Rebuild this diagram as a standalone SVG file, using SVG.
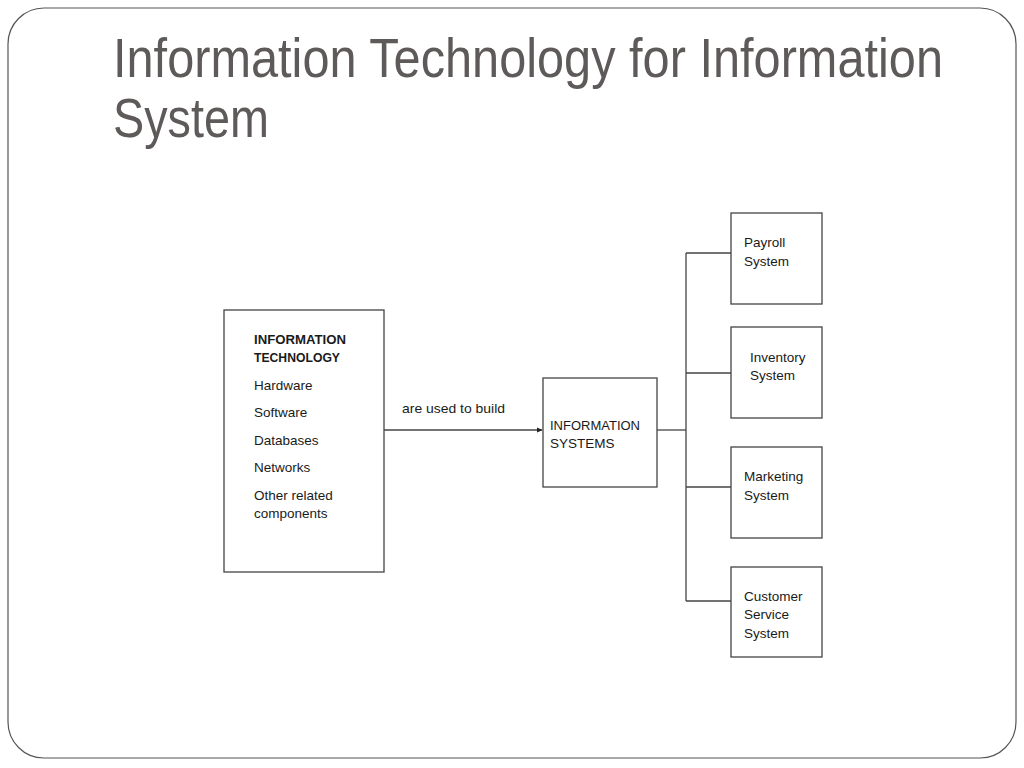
<svg xmlns="http://www.w3.org/2000/svg" width="1024" height="768" viewBox="0 0 1024 768">
<style>
.box{fill:#fff;stroke:#444;stroke-width:1.3}
.t{font-family:"Liberation Sans",Arial,sans-serif;font-size:13.5px;fill:#1a1a1a}
.b{font-weight:bold}
.c{stroke:#444;stroke-width:1.3;fill:none}
.title{font-family:"Liberation Sans",Arial,sans-serif;font-size:55px;fill:#5f5a5a}
</style>
<defs>
<marker id="arr" markerWidth="6" markerHeight="6" refX="5" refY="3" orient="auto" markerUnits="userSpaceOnUse">
<path d="M0,0.5 L5.5,3 L0,5.5 Z" fill="#222"/>
</marker>
</defs>
<rect x="0" y="0" width="1024" height="768" fill="#fff"/>
<rect x="8" y="8" width="1008" height="750" rx="36" ry="36" fill="#fff" stroke="#555" stroke-width="1.2"/>
<g id="title">
<g transform="translate(113,77) scale(0.8,1)">
<text class="title" x="0" y="0" textLength="1037.5" lengthAdjust="spacingAndGlyphs">Information Technology for Information</text>
</g>
<g transform="translate(113,137) scale(0.8,1)">
<text class="title" x="0" y="0" textLength="195" lengthAdjust="spacingAndGlyphs">System</text>
</g>
</g>
<g id="connectors">
<line class="c" x1="384" y1="430" x2="542" y2="430" marker-end="url(#arr)"/>
<polyline class="c" points="657,430 686,430"/>
<line class="c" x1="686" y1="253" x2="686" y2="601"/>
<line class="c" x1="686" y1="253" x2="731" y2="253"/>
<line class="c" x1="686" y1="373" x2="731" y2="373"/>
<line class="c" x1="686" y1="487" x2="731" y2="487"/>
<line class="c" x1="686" y1="601" x2="731" y2="601"/>
<text class="t" x="402" y="413" textLength="103" lengthAdjust="spacingAndGlyphs">are used to build</text>
</g>
<g id="it">
<rect class="box" x="224" y="310" width="160" height="262"/>
<text class="t b" x="254" y="344" textLength="92" lengthAdjust="spacingAndGlyphs">INFORMATION</text>
<text class="t b" x="254" y="362" textLength="86" lengthAdjust="spacingAndGlyphs">TECHNOLOGY</text>
<text class="t" x="254" y="390">Hardware</text>
<text class="t" x="254" y="417">Software</text>
<text class="t" x="254" y="445">Databases</text>
<text class="t" x="254" y="472">Networks</text>
<text class="t" x="254" y="500">Other related</text>
<text class="t" x="254" y="518">components</text>
</g>
<g id="is">
<rect class="box" x="543" y="378" width="114" height="109"/>
<text class="t" x="550" y="430" textLength="90" lengthAdjust="spacingAndGlyphs">INFORMATION</text>
<text class="t" x="550" y="448">SYSTEMS</text>
</g>
<g id="payroll">
<rect class="box" x="731" y="213" width="91" height="91"/>
<text class="t" x="744" y="247">Payroll</text>
<text class="t" x="744" y="266">System</text>
</g>
<g id="inventory">
<rect class="box" x="731" y="327" width="91" height="91"/>
<text class="t" x="750" y="362">Inventory</text>
<text class="t" x="750" y="380">System</text>
</g>
<g id="marketing">
<rect class="box" x="731" y="447" width="91" height="91"/>
<text class="t" x="744" y="481">Marketing</text>
<text class="t" x="744" y="500">System</text>
</g>
<g id="customer">
<rect class="box" x="731" y="567" width="91" height="90"/>
<text class="t" x="744" y="601">Customer</text>
<text class="t" x="744" y="619">Service</text>
<text class="t" x="744" y="638">System</text>
</g>
</svg>
